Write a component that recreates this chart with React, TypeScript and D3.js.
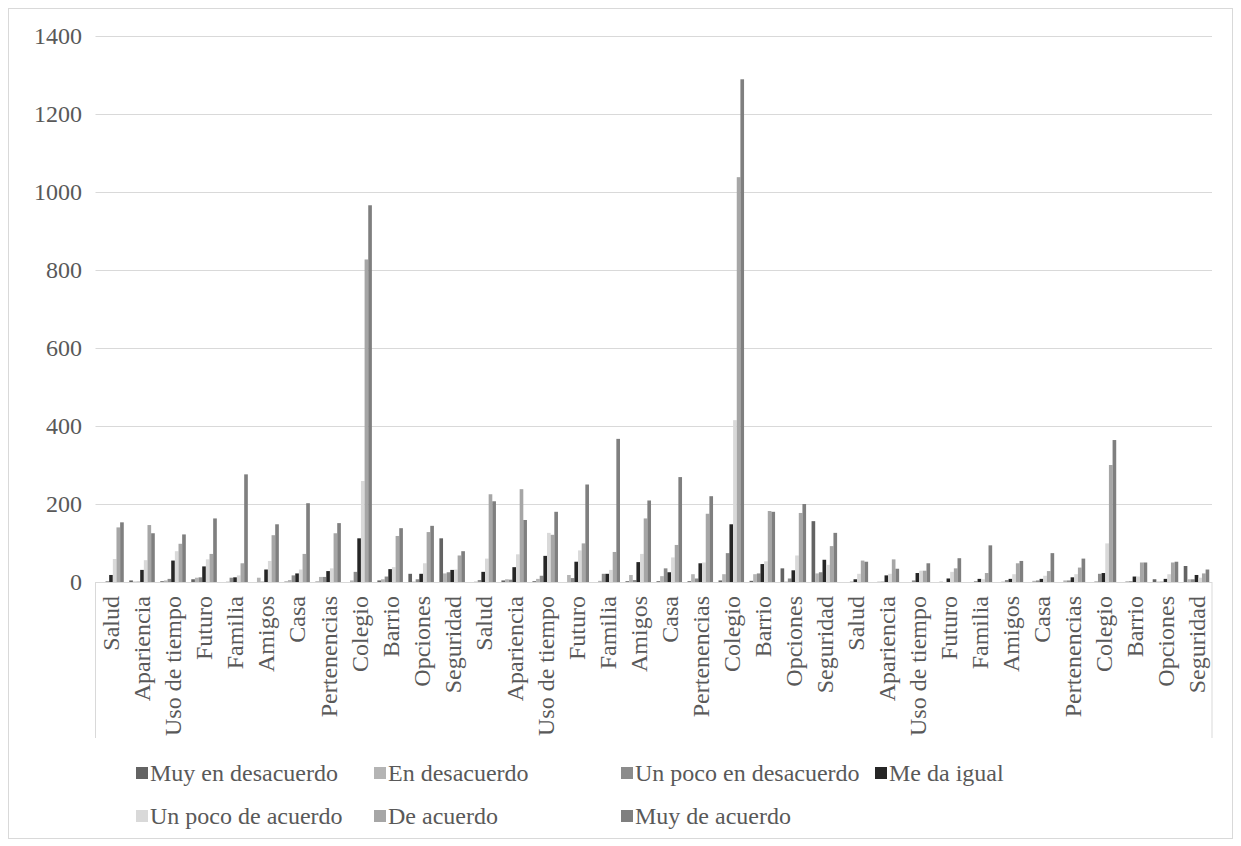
import React from "react";
import * as d3 from "d3";

const groupCategories = ["Salud", "Apariencia", "Uso de tiempo", "Futuro", "Familia", "Amigos", "Casa", "Pertenencias", "Colegio", "Barrio", "Opciones", "Seguridad"];
const categories = [...groupCategories, ...groupCategories, ...groupCategories];

const seriesNames = ["Muy en desacuerdo", "En desacuerdo", "Un poco en desacuerdo", "Me da igual", "Un poco de acuerdo", "De acuerdo", "Muy de acuerdo"];
const seriesColors = ["#636363", "#b4b4b4", "#8c8c8c", "#262626", "#d9d9d9", "#a6a6a6", "#7f7f7f"];

const muyEnDesacuerdo = [0, 4, 2, 7, 0, 0, 1, 1, 0, 4, 21, 112, 0, 4, 2, 0, 0, 2, 2, 2, 4, 3, 35, 156, 0, 0, 0, 0, 0, 0, 0, 0, 0, 0, 7, 41];
const enDesacuerdo = [0, 1, 4, 11, 1, 11, 5, 13, 4, 7, 1, 22, 1, 7, 8, 18, 3, 18, 15, 20, 20, 20, 1, 22, 0, 1, 0, 1, 0, 1, 3, 4, 2, 2, 1, 7];
const unPocoEnDesacuerdo = [2, 1, 8, 12, 11, 1, 17, 13, 26, 14, 7, 25, 5, 6, 16, 10, 21, 5, 35, 9, 74, 22, 9, 25, 1, 1, 4, 0, 2, 5, 4, 4, 21, 2, 1, 7];
const meDaIgual = [18, 31, 55, 40, 12, 32, 22, 28, 112, 33, 21, 31, 26, 38, 67, 52, 21, 51, 25, 48, 148, 46, 30, 57, 7, 17, 23, 9, 8, 8, 8, 12, 23, 14, 8, 18];
const unPocoDeAcuerdo = [59, 56, 79, 58, 17, 54, 32, 35, 259, 38, 48, 32, 60, 71, 126, 81, 31, 72, 63, 50, 415, 53, 68, 44, 21, 21, 29, 26, 7, 20, 16, 20, 99, 14, 20, 11];
const deAcuerdo = [140, 146, 98, 72, 48, 120, 72, 125, 827, 118, 128, 68, 225, 238, 121, 99, 77, 163, 95, 175, 1038, 182, 177, 92, 55, 58, 29, 35, 23, 48, 28, 37, 300, 50, 50, 22];
const muyDeAcuerdo = [153, 125, 122, 163, 276, 148, 202, 151, 966, 138, 144, 79, 207, 159, 180, 250, 367, 209, 269, 220, 1289, 180, 200, 126, 52, 34, 48, 61, 94, 54, 74, 60, 364, 50, 52, 32];

const seriesValues = [muyEnDesacuerdo, enDesacuerdo, unPocoEnDesacuerdo, meDaIgual, unPocoDeAcuerdo, deAcuerdo, muyDeAcuerdo];
const yTicks = [0, 200, 400, 600, 800, 1000, 1200, 1400];

const FONT = "'Liberation Serif', 'Times New Roman', serif";
const TEXT = "#595959";
const GRID = "#d9d9d9";
const FS = 24;

export default function App() {
  const W = 1241, H = 846;
  const left = 95.5, right = 1212, top = 36, bottom = 582;
  const y = d3.scaleLinear().domain([0, 1400]).range([bottom, top]);
  const x = d3.scaleBand<number>().domain(categories.map((_, i) => i)).range([left, right]).paddingInner(0).paddingOuter(0);
  const xs = d3.scaleBand<number>().domain(seriesNames.map((_, i) => i)).range([0, x.bandwidth()]).paddingInner(0).paddingOuter(0.75);

  const legendRows = [
    [0, 1, 2, 3],
    [4, 5, 6],
  ];
  const legendX = [136, 374, 621, 875];
  const legendY = [773, 816];
  const ts = { fontFamily: FONT };

  return (
    <svg width={W} height={H} style={{ position: "absolute", left: 0, top: 0, fontFamily: FONT }}>
      <rect x={0} y={0} width={W} height={H} fill="#fff" />
      <rect x={8.5} y={8.5} width={1224} height={830} fill="none" stroke={GRID} strokeWidth={1} />
      {yTicks.map((t) => (
        <g key={t}>
          {t > 0 && <line x1={left} x2={right} y1={Math.round(y(t)) + 0.5} y2={Math.round(y(t)) + 0.5} stroke={GRID} strokeWidth={1} />}
          <text x={82} y={y(t)} dy="0.35em" textAnchor="end" fontSize={FS} fill={TEXT} style={ts}>{t}</text>
        </g>
      ))}
      {seriesValues.map((vals, s) => (
        <g key={s} fill={seriesColors[s]}>
          {vals.map((v, i) => (
            <rect key={i} x={(x(i) as number) + (xs(s) as number)} y={y(v)} width={xs.bandwidth()} height={Math.max(0, bottom - y(v))} />
          ))}
        </g>
      ))}
      <line x1={left} x2={right} y1={bottom + 0.5} y2={bottom + 0.5} stroke={GRID} strokeWidth={1} />
      <line x1={left} x2={left} y1={bottom} y2={738} stroke={GRID} strokeWidth={1} />
      <line x1={right} x2={right} y1={bottom} y2={738} stroke={GRID} strokeWidth={1} />
      {categories.map((c, i) => {
        const cx = (x(i) as number) + x.bandwidth() / 2;
        return (
          <text key={i} transform={`translate(${cx},${596}) rotate(-90)`} dy="0.35em" textAnchor="end" fontSize={FS} fill={TEXT} style={ts}>{c}</text>
        );
      })}
      {legendRows.map((row, r) =>
        row.map((s, k) => (
          <g key={s}>
            <rect x={legendX[k]} y={legendY[r] - 6} width={12} height={12} fill={seriesColors[s]} />
            <text x={legendX[k] + 14} y={legendY[r]} dy="0.35em" fontSize={FS} fill={TEXT} style={ts}>{seriesNames[s]}</text>
          </g>
        ))
      )}
    </svg>
  );
}
